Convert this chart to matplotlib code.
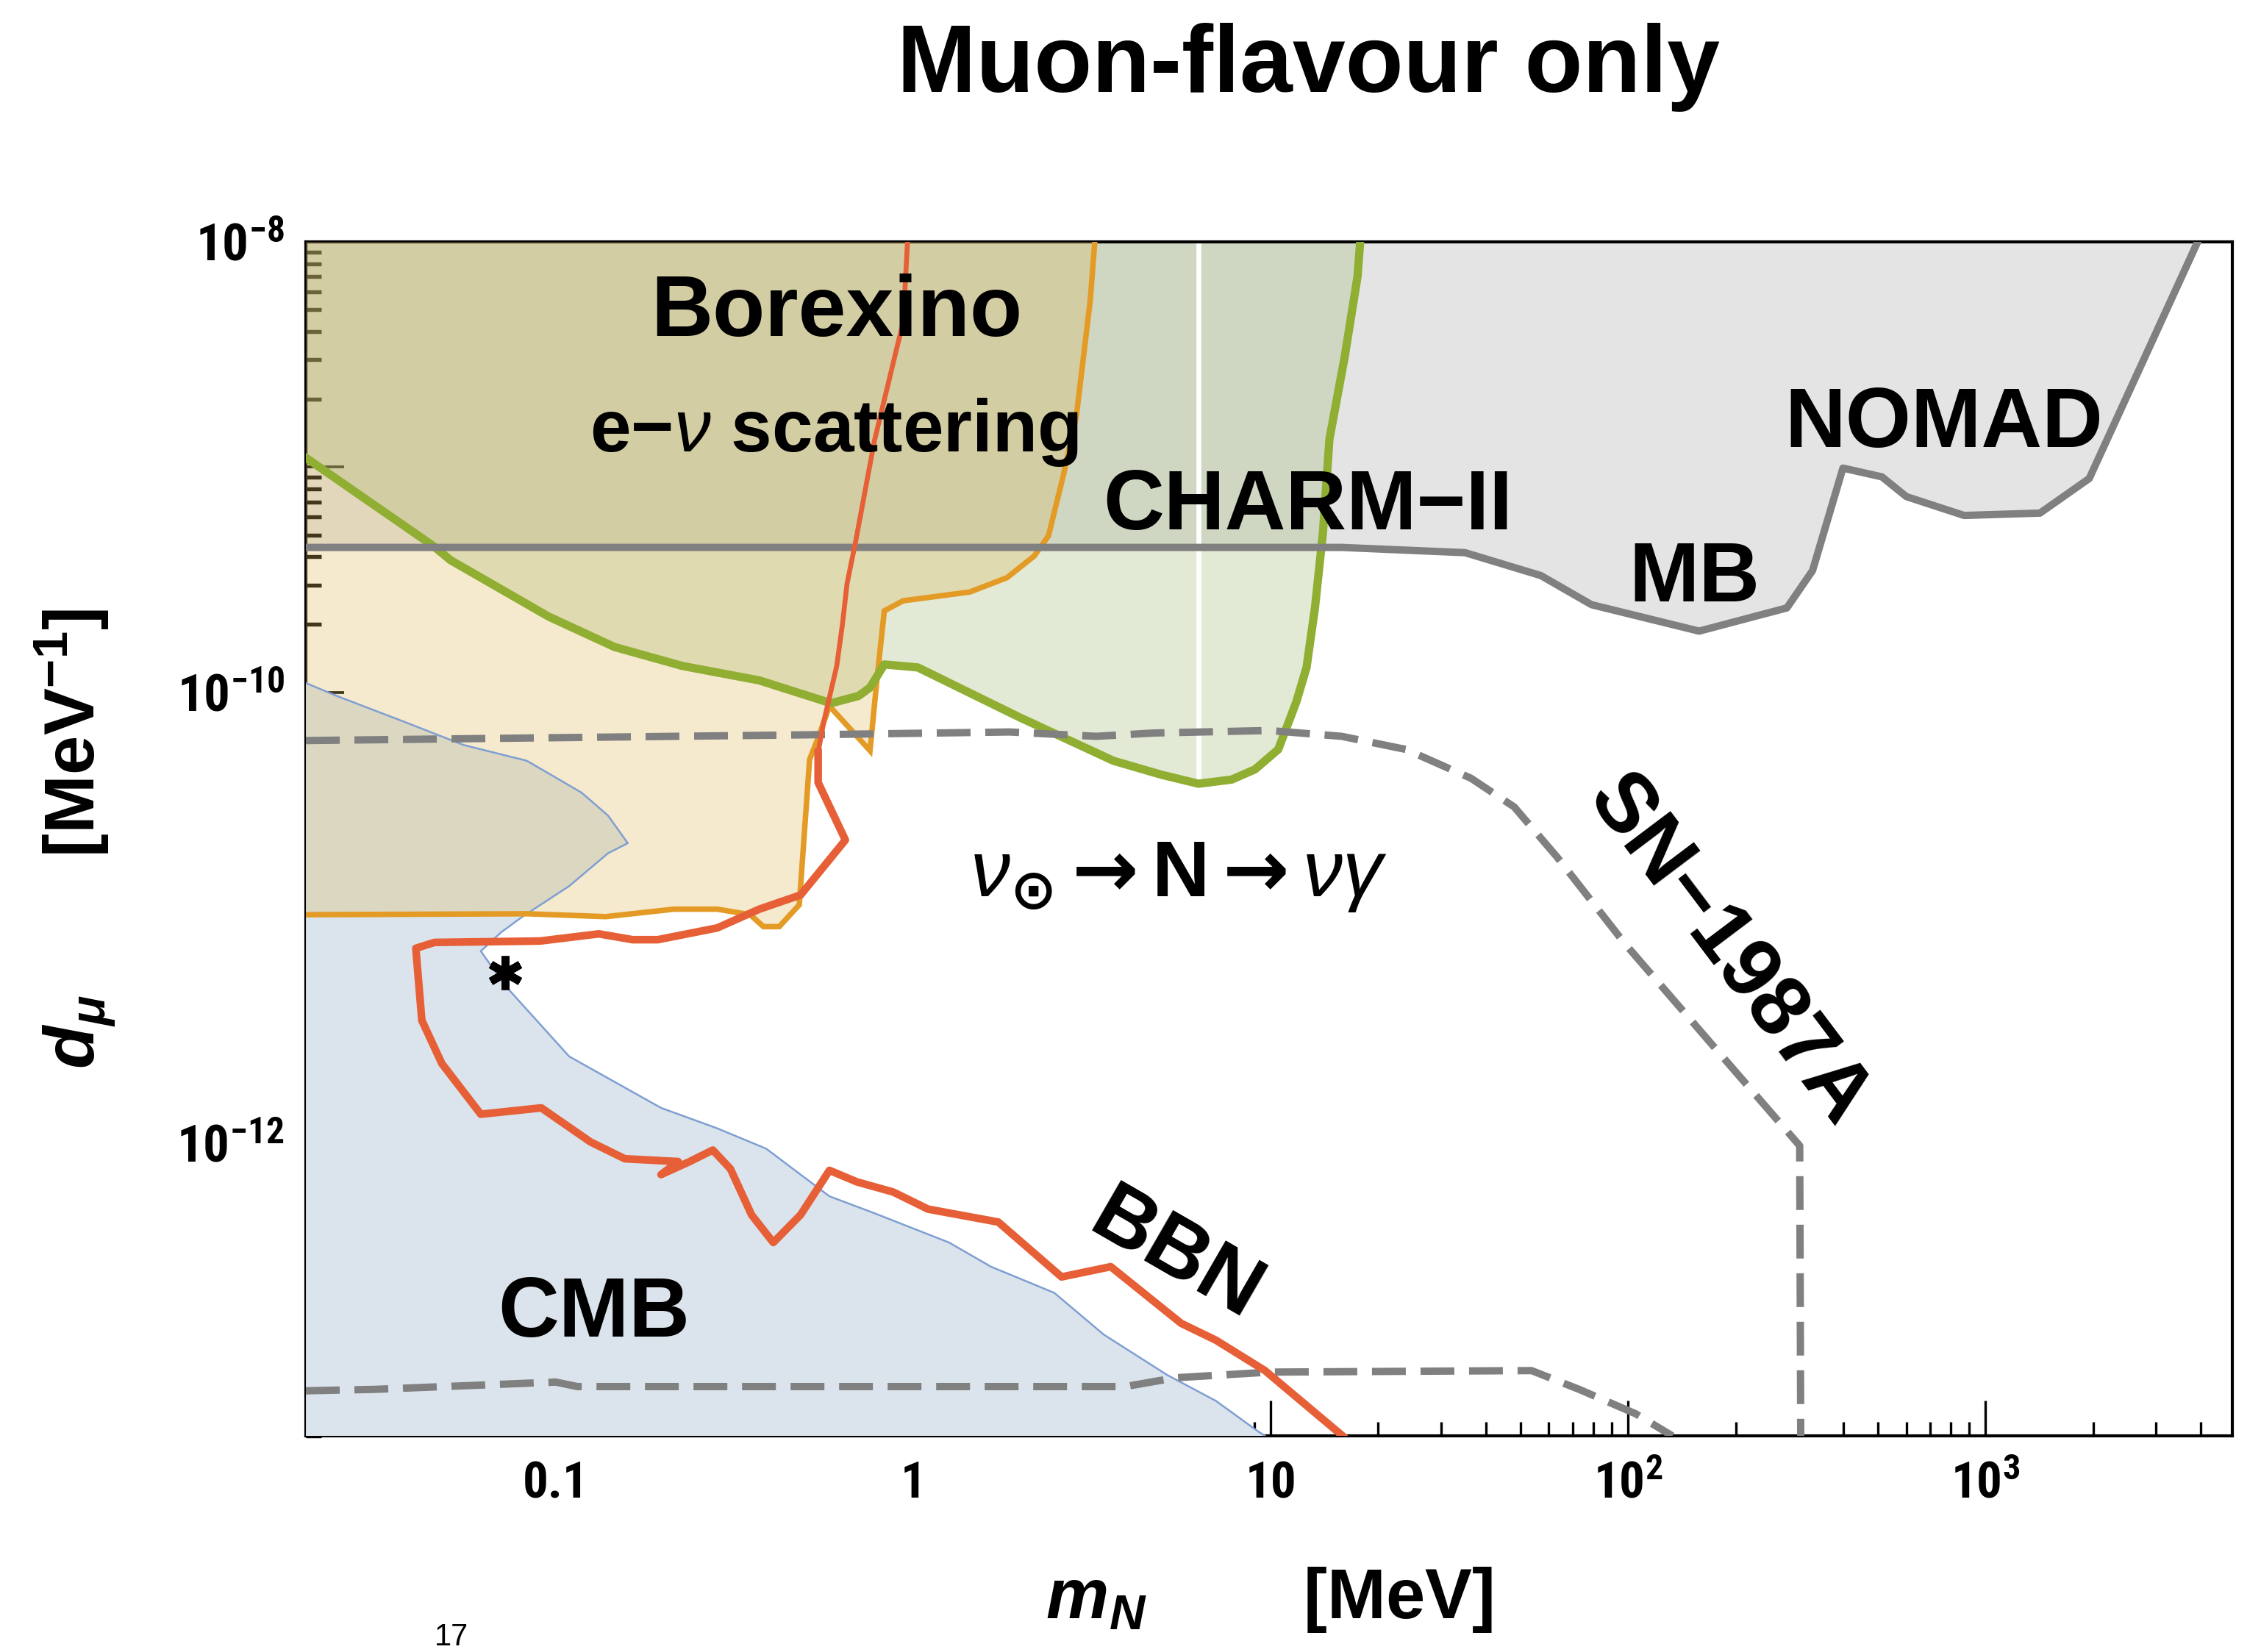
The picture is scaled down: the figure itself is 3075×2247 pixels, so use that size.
import numpy as np
import matplotlib
matplotlib.use("Agg")
import matplotlib.pyplot as plt
from matplotlib import font_manager as fm
from matplotlib.ticker import LogLocator, FuncFormatter, NullFormatter

# ---------------- data (m_N in MeV, d_mu in MeV^-1) ----------------
# NOMAD / MiniBooNE (MB) excluded-region boundary (solid gray)
nomad_m = [0.02, 15.8, 35, 57, 79, 158, 278, 328, 399, 513, 600, 871, 1420, 1950, 3920]
nomad_d = [4.4e-10, 4.4e-10, 4.17e-10, 3.3e-10, 2.45e-10, 1.87e-10, 2.37e-10, 3.47e-10,
           9.9e-10, 9.05e-10, 7.4e-10, 6.1e-10, 6.25e-10, 8.9e-10, 1e-8]

# CHARM-II boundary (green)
charm_m = [0.02, 0.0454, 0.0508, 0.0955, 0.146, 0.226, 0.371, 0.589, 0.703, 0.757, 0.830,
           1.03, 1.99, 3.63, 4.94, 6.28, 7.78, 9.04, 10.5, 11.8, 12.6, 13.3, 14.0, 14.6,
           16.1, 17.5, 17.8]
charm_d = [1.10e-9, 4.47e-10, 3.86e-10, 2.17e-10, 1.59e-10, 1.31e-10, 1.13e-10, 8.95e-11,
           9.64e-11, 1.05e-10, 1.33e-10, 1.29e-10, 7.73e-11, 4.97e-11, 4.31e-11, 3.93e-11,
           4.10e-11, 4.55e-11, 5.58e-11, 9.08e-11, 1.29e-10, 2.37e-10, 5.09e-10, 1.33e-9,
           3.07e-9, 7.02e-9, 1e-8]

# Borexino e-nu scattering boundary (orange)
bor_m = [0.02, 0.083, 0.138, 0.214, 0.283, 0.350, 0.381, 0.422, 0.480, 0.513, 0.542, 0.583,
         0.757, 0.793, 0.830, 0.937, 1.44, 1.83, 2.18, 2.39, 2.63, 2.86, 3.13, 3.22]
bor_d = [1.03e-11, 1.04e-11, 1.01e-11, 1.09e-11, 1.09e-11, 1.03e-11, 9.12e-12, 9.12e-12,
         1.14e-11, 5.03e-11, 6.28e-11, 8.69e-11, 5.51e-11, 1.17e-10, 2.30e-10, 2.55e-10,
         2.79e-10, 3.23e-10, 4.03e-10, 4.95e-10, 9.18e-10, 1.68e-9, 5.55e-9, 1e-8]

# BBN boundary (red), upper thin part and lower thick part
bbn_up_m = [0.964, 0.937, 0.903, 0.779, 0.690, 0.653, 0.634, 0.611, 0.562, 0.542]
bbn_up_d = [1e-8, 4.38e-9, 3.46e-9, 1.31e-9, 4.67e-10, 3.04e-10, 2.01e-10, 1.31e-10,
            7.40e-11, 5.42e-11]
bbn_lo_m = [0.542, 0.542, 0.646, 0.484, 0.371, 0.283, 0.193, 0.164, 0.132, 0.0903, 0.0458,
            0.0406, 0.0422, 0.0480, 0.0617, 0.0911, 0.125, 0.156, 0.220, 0.197, 0.237,
            0.275, 0.308, 0.353, 0.406, 0.484, 0.583, 0.696, 0.879, 1.10, 1.73, 2.60,
            3.57, 5.62, 7.03, 9.64, 15.9]
bbn_lo_d = [5.42e-11, 3.98e-11, 2.21e-11, 1.26e-11, 1.09e-11, 9.00e-12, 7.98e-12, 7.98e-12,
            8.47e-12, 7.87e-12, 7.76e-12, 7.31e-12, 3.50e-12, 2.25e-12, 1.34e-12, 1.43e-12,
            1.01e-12, 8.5e-13, 8.26e-13, 7.23e-13, 8.26e-13, 9.29e-13, 7.67e-13, 4.79e-13,
            3.61e-13, 4.79e-13, 7.55e-13, 6.71e-13, 6.05e-13, 5.08e-13, 4.45e-13, 2.54e-13,
            2.82e-13, 1.58e-13, 1.33e-13, 9.75e-14, 5.0e-14]

# CMB boundary (blue region)
cmb_m = [0.02, 0.0244, 0.0377, 0.0552, 0.0830, 0.118, 0.140, 0.159, 0.140, 0.109, 0.0807,
         0.0703, 0.0617, 0.0722, 0.109, 0.197, 0.283, 0.388, 0.583, 0.764, 1.26, 1.65,
         2.48, 3.41, 5.13, 7.03, 9.20, 9.64]
cmb_d = [1.10e-10, 9.64e-11, 7.40e-11, 5.84e-11, 4.97e-11, 3.59e-11, 2.84e-11, 2.14e-11,
         1.93e-11, 1.38e-11, 1.01e-11, 8.60e-12, 7.10e-12, 4.99e-12, 2.42e-12, 1.43e-12,
         1.16e-12, 9.42e-13, 5.79e-13, 4.93e-13, 3.61e-13, 2.82e-13, 2.16e-13, 1.41e-13,
         9.33e-14, 7.15e-14, 5.25e-14, 5.0e-14]

# SN-1987A (dashed gray): upper and lower boundaries
sn_up_m = [0.02, 0.508, 1.86, 3.25, 4.71, 9.9, 15.8, 23.9, 36.3, 48.0, 63.4, 98.1, 179, 302, 304]
sn_up_d = [6.11e-11, 6.48e-11, 6.67e-11, 6.38e-11, 6.60e-11, 6.77e-11, 6.38e-11, 5.58e-11,
           4.16e-11, 3.10e-11, 1.85e-11, 7.64e-12, 2.53e-12, 9.71e-13, 5e-14]
sn_lo_m = [0.02, 0.0313, 0.1, 0.115, 3.92, 5.42, 9.91, 53.7, 72.9, 105, 133]
sn_lo_d = [7.93e-14, 8.05e-14, 8.67e-14, 8.28e-14, 8.28e-14, 9.06e-14, 9.60e-14, 9.75e-14,
           8.05e-14, 6.27e-14, 5.0e-14]

# benchmark point (*)
star_m = [0.0723]
star_d = [5.69e-12]

x_limits = (0.02, 4900)
y_limits = (5e-14, 1e-8)
x_tick_text = {0.1: "0.1", 1: "1", 10: "10", 100: r"$\mathregular{10^{2}}$", 1000: r"$\mathregular{10^{3}}$"}

# ---------------- fonts ----------------
names = {f.name for f in fm.fontManager.ttflist}
MAIN = "Liberation Sans" if "Liberation Sans" in names else "DejaVu Sans"
NARROW = next((n for n in ["Liberation Sans Narrow", "Roboto Condensed", "Open Sans Condensed",
                           "Noto Sans Condensed"] if n in names), MAIN)

plt.rcParams.update({
    "font.family": [MAIN, "DejaVu Sans"],
    "font.weight": "bold",
    "mathtext.fontset": "custom",
    "mathtext.rm": "DejaVu Sans:weight=bold",
    "mathtext.it": f"{MAIN}:style=italic:weight=normal",
    "mathtext.bf": f"{MAIN}:weight=bold",
    "mathtext.sf": f"{MAIN}:style=italic:weight=bold",
    "axes.linewidth": 1.0,
})

# ---------------- figure ----------------
fig = plt.figure(figsize=(10.25, 7.49), dpi=300)
ax = fig.add_axes([0.1353, 0.1308, 0.852, 0.7228])
ax.set_xscale("log")
ax.set_yscale("log")
ax.set_xlim(*x_limits)
ax.set_ylim(*y_limits)

xmin, xmax = x_limits
ymin, ymax = y_limits

GRAY_LINE = "#808080"
GREEN = "#8fae32"
ORANGE = "#e39b25"
RED = "#e65f36"

# filled regions
ax.fill(nomad_m + [xmin], nomad_d + [ymax], color="#e4e4e4", lw=0, zorder=1)
ax.fill(charm_m + [xmin], charm_d + [ymax], color="#a7bd7d", alpha=0.33, lw=0, zorder=2)
# white rendering seam in the CHARM-II region
i_min = int(np.argmin(charm_d))
ax.plot([charm_m[i_min]] * 2, [charm_d[i_min], ymax], color="white", lw=1.6, zorder=2.5)
ax.fill(cmb_m + [xmin], cmb_d + [ymin], color="#dbe4ec", lw=0, zorder=2.7)
ax.fill(bor_m + [xmin], bor_d + [ymax], color="#deb95f", alpha=0.30, lw=0, zorder=3)

# boundary lines
ax.plot(cmb_m, cmb_d, color="#7f9fd2", lw=0.6, zorder=3.5)
ax.plot(bor_m, bor_d, color=ORANGE, lw=1.8, zorder=4, solid_joinstyle="miter")
ax.plot(charm_m, charm_d, color=GREEN, lw=2.7, zorder=5)
ax.plot(nomad_m, nomad_d, color=GRAY_LINE, lw=2.4, zorder=6)
ax.plot(sn_up_m, sn_up_d, color=GRAY_LINE, lw=2.4, ls=(0, (4.6, 2.0)), dash_capstyle="butt", zorder=6)
ax.plot(sn_lo_m, sn_lo_d, color=GRAY_LINE, lw=2.4, ls=(0, (4.6, 2.0)), dash_capstyle="butt", zorder=6)
ax.plot(bbn_up_m, bbn_up_d, color=RED, lw=1.6, zorder=7)
ax.plot(bbn_lo_m, bbn_lo_d, color=RED, lw=2.5, zorder=7)
ax.plot(star_m, star_d, ls="none", marker=(6, 2, 0), ms=11, mew=2.6, color="black", zorder=8)

# ---------------- region labels ----------------
lab = dict(fontsize=27.5, fontweight="bold", ha="center", va="center", zorder=9, family=MAIN)
ax.text(0.611, 4.79e-9, "Borexino", **{**lab, "fontsize": 28})
ax.text(0.600, 1.43e-9, "e\u2212$\\nu$ scattering", **{**lab, "fontsize": 24})
ax.text(12.7, 6.64e-10, "CHARM\u2212II", **lab)
ax.text(764, 1.54e-9, "NOMAD", **lab)
ax.text(153, 3.18e-10, "MB", **lab)
ax.text(0.128, 1.73e-13, "CMB", **lab)
ax.text(5.42, 3.12e-13, "BBN", rotation=-30, rotation_mode="anchor", **lab)
ax.text(190, 7.10e-12, "SN\u22121987A", rotation=-53, rotation_mode="anchor", **lab)
ax.text(5.52, 1.24e-11, r"$\nu_{\odot}\rightarrow\mathbf{N}\rightarrow\nu\gamma$",
        fontsize=26, ha="center", va="baseline", zorder=9)

# ---------------- axes styling ----------------
ax.xaxis.set_major_locator(LogLocator(base=10, numticks=100))
ax.xaxis.set_minor_locator(LogLocator(base=10, subs=np.arange(2, 10), numticks=100))
ax.yaxis.set_major_locator(LogLocator(base=10, numticks=100))
ax.yaxis.set_minor_locator(LogLocator(base=10, subs=np.arange(2, 10), numticks=100))
ax.xaxis.set_minor_formatter(NullFormatter())
ax.yaxis.set_minor_formatter(NullFormatter())


def xfmt(v, pos):
    for k, s in x_tick_text.items():
        if abs(np.log10(v) - np.log10(k)) < 1e-6:
            return s
    return ""


def yfmt(v, pos):
    e = int(round(np.log10(v)))
    return r"$\mathregular{10^{%d}}$" % e if e % 2 == 0 else ""


ax.xaxis.set_major_formatter(FuncFormatter(xfmt))
ax.yaxis.set_major_formatter(FuncFormatter(yfmt))

ax.tick_params(which="both", direction="in", top=False, right=False, colors="black")
ax.tick_params(axis="x", which="major", length=11.5, width=0.8, pad=8,
               labelsize=16.5, labelfontfamily=NARROW)
ax.tick_params(axis="x", which="minor", length=4.6, width=0.8)
ax.tick_params(axis="y", which="major", length=12.5, width=0.9, pad=7,
               labelsize=17, labelfontfamily=NARROW)
ax.tick_params(axis="y", which="minor", length=5.0, width=1.3)

ax.set_xlabel(r"$\mathsf{m}_{\mathsf{N}}$        [MeV]", fontsize=23, fontweight="bold",
              va="center", ha="center")
ax.xaxis.set_label_coords(0.5, -0.137)
ax.set_ylabel(r"$\mathsf{d}_{\mathsf{\mu}}$       [MeV$^{\mathbf{-1}}$]", fontsize=23,
              fontweight="bold", va="center", ha="center")
ax.yaxis.set_label_coords(-0.12, 0.5)

fig.text(0.5786, 0.9444, "Muon-flavour only", fontsize=31, fontweight="bold",
         ha="center", va="baseline", family=MAIN)
fig.text(0.192, 0.0, "17", fontsize=10, fontweight="normal", ha="left", va="bottom",
         family=MAIN)

fig.savefig("out.png", dpi=300)
